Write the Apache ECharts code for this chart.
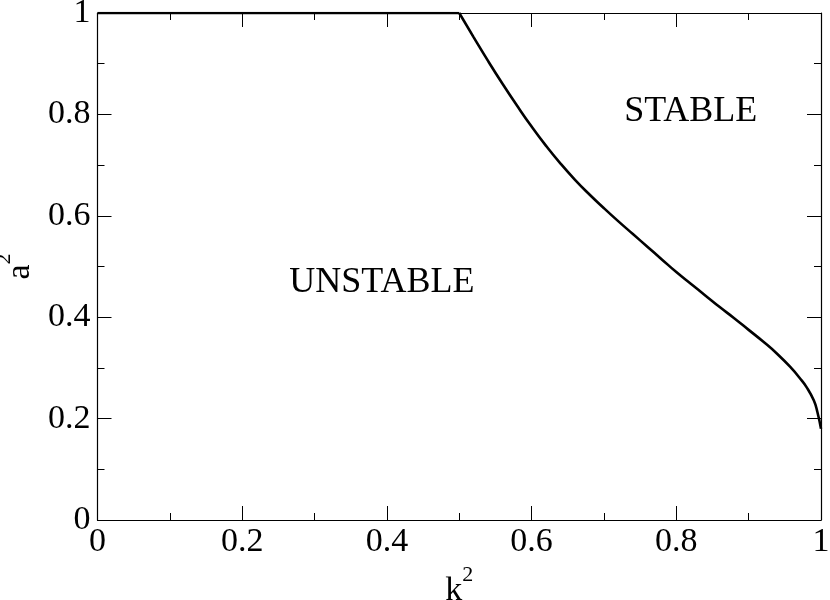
<!DOCTYPE html>
<html>
<head>
<meta charset="utf-8">
<script src="https://cdn.jsdelivr.net/npm/echarts@6/dist/echarts.min.js"></script>
<style>
  html, body { margin: 0; padding: 0; background: #fff; }
  #chart { width: 830px; height: 600px; }
</style>
</head>
<body>
<div id="chart"></div>
<script>
// flat part of the boundary
var flatK = [0, 0.5];
var flatA = [1, 1];

// curved part of the boundary
var k2 = [0.5, 0.52, 0.54, 0.56, 0.58, 0.60, 0.62, 0.64, 0.66, 0.68, 0.70, 0.72, 0.74, 0.76, 0.78,
          0.80, 0.82, 0.84, 0.86, 0.88, 0.90, 0.92, 0.94, 0.96, 0.97, 0.98, 0.99, 0.995, 1.0];
var a2 = [1, 0.952, 0.905, 0.860, 0.817, 0.776, 0.738, 0.703, 0.671, 0.642, 0.615, 0.589, 0.564, 0.539, 0.514,
          0.489, 0.466, 0.443, 0.420, 0.398, 0.375, 0.352, 0.327, 0.298, 0.281, 0.262, 0.236, 0.213, 0.18];

// region labels
var regionNames = ['STABLE', 'UNSTABLE'];
var regionK = [0.82, 0.393];
var regionA = [0.805, 0.469];

var tickLabels = ['0', '0.2', '0.4', '0.6', '0.8', '1'];

var FONT = 'Liberation Serif';

function pairs(xs, ys) {
  return xs.map(function (x, i) { return [x, ys[i]]; });
}
var regions = regionNames.map(function (n, i) { return { name: n, value: [regionK[i], regionA[i]] }; });

function fmt(v) {
  return tickLabels[Math.round(v * 5)];
}

// major axis: line, 14px inward ticks, optional labels
function major(pos, showLabels, extra) {
  var o = {
    type: 'value',
    position: pos,
    min: 0,
    max: 1,
    interval: 0.2,
    axisLine: { show: true, onZero: false, lineStyle: { color: '#000', width: 1.2 } },
    axisTick: { show: true, inside: true, length: 14, lineStyle: { color: '#000', width: 1 } },
    splitLine: { show: false },
    axisLabel: { show: showLabels, fontFamily: FONT, fontSize: 34, color: '#000', formatter: fmt }
  };
  for (var key in extra) o[key] = extra[key];
  return o;
}

// minor ticks: a bare axis with 7px inward ticks every 0.1
function minor(pos) {
  return {
    type: 'value',
    position: pos,
    min: 0,
    max: 1,
    interval: 0.1,
    axisLine: { show: false, onZero: false },
    axisTick: { show: true, inside: true, length: 7, lineStyle: { color: '#000', width: 1 } },
    splitLine: { show: false },
    axisLabel: { show: false }
  };
}

var richName = {
  b: { fontFamily: FONT, fontSize: 34, color: '#000', verticalAlign: 'bottom', padding: [10, 0, 0, 0] },
  s: { fontFamily: FONT, fontSize: 22, color: '#000', verticalAlign: 'top' }
};

var chart = echarts.init(document.getElementById('chart'));
chart.setOption({
  animation: false,
  backgroundColor: '#fff',
  grid: { left: 97.5, right: 9, top: 13, bottom: 80, containLabel: false, outerBoundsMode: 'none' },
  xAxis: [
    major('bottom', true, {
      name: '{b|k}{s|2}',
      nameLocation: 'middle',
      nameGap: 40,
      nameTextStyle: { rich: richName },
      axisLabel: { show: true, fontFamily: FONT, fontSize: 34, color: '#000', margin: 5, formatter: fmt }
    }),
    major('top', false, {}),
    minor('bottom'),
    minor('top')
  ],
  yAxis: [
    major('left', true, {
      name: '{b|a}{s|2}',
      nameLocation: 'middle',
      nameGap: 49,
      nameTextStyle: { rich: richName },
      axisLabel: { show: true, fontFamily: FONT, fontSize: 34, color: '#000', margin: 7, formatter: fmt }
    }),
    major('right', false, {}),
    minor('left'),
    minor('right')
  ],
  series: [
    {
      type: 'line',
      data: pairs(flatK, flatA),
      showSymbol: false,
      symbol: 'none',
      lineStyle: { color: '#000', width: 2.6 },
      z: 5
    },
    {
      type: 'line',
      data: pairs(k2, a2),
      showSymbol: false,
      symbol: 'none',
      smooth: 0.5,
      lineStyle: { color: '#000', width: 2.6 },
      z: 5
    },
    {
      type: 'scatter',
      data: regions,
      symbolSize: 0,
      silent: true,
      itemStyle: { opacity: 1 },
      label: {
        show: true,
        position: [0, 0],
        align: 'center',
        verticalAlign: 'middle',
        formatter: '{b}',
        fontFamily: FONT,
        fontSize: 36,
        color: '#000'
      }
    }
  ]
});
</script>
</body>
</html>
